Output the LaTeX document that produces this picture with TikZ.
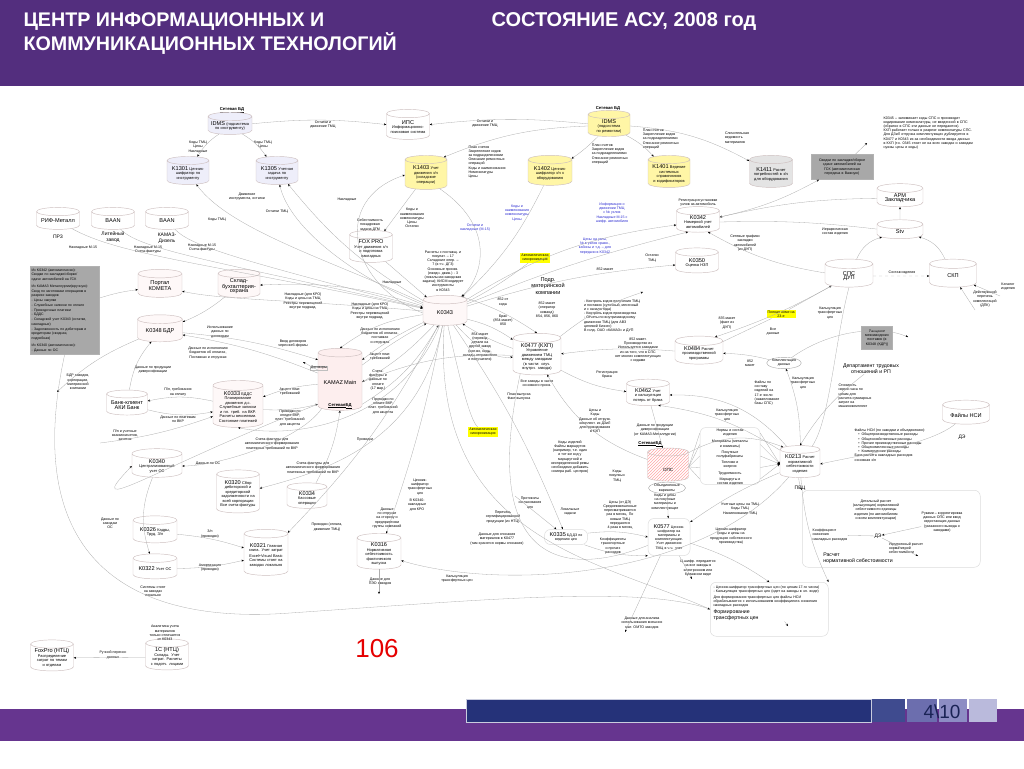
\documentclass[tikz,border=0pt]{standalone}
\usepackage{fontspec}
\setmainfont{Liberation Sans}
\usetikzlibrary{shapes.geometric,arrows.meta,patterns,calc}
\definecolor{hdr}{HTML}{532E7E}
\definecolor{barp}{HTML}{66358F}
\definecolor{navy}{HTML}{253279}
\definecolor{sqa}{HTML}{3F4B8F}
\definecolor{sqb}{HTML}{6C6EAE}
\definecolor{sqc}{HTML}{8D8DC4}
\definecolor{sqd}{HTML}{BABADC}
\definecolor{lav}{HTML}{EEEEFA}
\definecolor{yel}{HTML}{FFF6A6}
\definecolor{gry}{HTML}{E4E4E4}
\definecolor{dgry}{HTML}{A8A8A8}
\definecolor{pnk}{HTML}{FDEEEE}
\definecolor{edg}{HTML}{CDBFBF}
\definecolor{lblue}{HTML}{2A2AD0}
\definecolor{hlite}{HTML}{FFFF00}
\newcommand\ids[1]{{\fontsize{5.6}{6}\selectfont #1}}
\begin{document}
\begin{tikzpicture}[x=1pt,y=-1pt,
  db/.style 2 args={cylinder, shape border rotate=90, aspect=0.22, draw=edg, line width=0.45pt, fill=white, align=center, font=\fontsize{3.9}{4.5}\selectfont, inner sep=0.4pt, minimum width=#1, minimum height=#2, text width=#1-6},
  lb/.style={font=\fontsize{3.6}{4.2}\selectfont, align=center, inner sep=0.3pt},
  lbl/.style={lb, align=left},
  bl/.style={lb, text=lblue},
  con/.style={draw=black!32, line width=0.3pt, -{Stealth[length=2.4pt,width=2pt,black]}},
  lnn/.style={draw=black!32, line width=0.3pt},
  rbox/.style={draw=black!14, rounded corners=6pt, line width=0.5pt},
  sbd/.style={font=\bfseries\fontsize{4.2}{4.6}\selectfont, inner sep=0.3pt},
  hl/.style={lb, fill=hlite, inner sep=1pt},
]
\useasboundingbox (0,0) rectangle (1024,768);
% ---------- header and frame ----------
\fill[hdr] (0,0) rectangle (1024,86);
\draw[white, line width=1pt] (0,88) -- (1024,88);
\node[anchor=west, text=white, font=\bfseries\fontsize{19.7}{24}\selectfont, align=left] (title) at (20,34) {ЦЕНТР ИНФОРМАЦИОННЫХ И\\КОММУНИКАЦИОННЫХ ТЕХНОЛОГИЙ};
\node[anchor=west, text=white, font=\bfseries\fontsize{20}{22}\selectfont] (title2) at (488,22) {СОСТОЯНИЕ АСУ, 2008 год};
\fill[barp] (0,709) rectangle (1024,741);
\fill[navy, draw=white!75!navy, line width=0.8pt] (466,699) rectangle (871,722);
\fill[sqa] (872,699) rectangle (905,722);
\fill[sqb] (907,699) rectangle (937,722);
\fill[sqc] (939,699) rectangle (967,722);
\fill[sqd] (969,699) rectangle (997,722);
\node[text=navy!70!black, font=\fontsize{19}{20}\selectfont] (pg) at (942,712) {4\textbackslash 10};
\node[text=red!90!black, font=\fontsize{26}{28}\selectfont] (num) at (377,649) {106};

% ---------- top row ----------
\node[sbd] (sbd1) at (232,110) {\underline{Сетевая БД}};
\node[db={44}{19}, fill=lav] (idmsI) at (230,126) {\ids{IDMS} (подсистема по инструменту)};
\node[db={43}{30}] (ips) at (408,127) {\ids{ИПС}\\Информационно-поисковая система};
\node[sbd] (sbd2) at (608,109) {\underline{Сетевая БД}};
\node[db={42}{20}, fill=yel] (idmsR) at (609,126) {\ids{IDMS} (подсистема по ремонтам)};
\node[db={42}{28}, fill=lav] (k1301) at (188,173) {\ids{K1301} Ценник-шифратор по инструменту};
\node[db={42}{28}, fill=lav] (k1305) at (277,173) {\ids{K1305} Учетная задача по инструменту};
\node[db={42}{34}, fill=yel] (k1403) at (426,175) {\ids{K1403} Учет движения з/ч (складские операции)};
\node[db={44}{30}, fill=yel] (k1402) at (550,173) {\ids{K1402} Ценник-шифратор з/ч к оборудованию};
\node[db={42}{32}, fill=yel] (k1401) at (669,174) {\ids{K1401} Ведение системных справочников и кодификаторов};
\node[db={43}{32}, fill=gry] (k1411) at (771,174) {\ids{K1411} Расчет потребностей в з/ч для оборудования};
\node[draw=black!30, fill=dgry, minimum width=62, minimum height=25, text width=60, lb] (svod) at (842,167) {Сводки по закладке/сборке сдаче автомобилей на ГСК (автоматическая передача в Важную)};
\node[lbl, text width=96, anchor=north west] (note) at (883,116) {K0345 – запоминает коды СПС и производит кодирование номенклатуры, не введенной в СПС (обратно в СПС эти данные не передаются).\\КХП работает только в разрезе номенклатуры СПС.\\Для ДЗиЛ отгрузка комплектующих дублируется в K0477 и K0343 из-за необходимости ввода данных в КХП (т.к. 0345 стоит не на всех заводах и заводам нужны цены и коды)};
\node[db={46}{20}] (arm) at (900,198) {\ids{АРМ Закладчика}};
\node[db={46}{19}] (stv) at (900,232) {\ids{Stv}};
\node[db={48}{28}] (sps) at (849,276) {\ids{СПС}\\\ids{ДУП}};
\node[db={47}{28}] (skp) at (953,276) {\ids{СКП}};
\node[lb] (lkat) at (1008,287) {Каталог\\изделия};
\node[lb] (ldpk) at (985,299) {Действующий\\перечень\\комплектаций\\(ДПК)};
\coordinate (ckat) at (1000,296);
\coordinate (cdpk) at (975,310);

% ---------- left ----------
\node[db={43}{22}] (rif) at (58,221) {\ids{РИФ-Металл}};
\node[lb, font=\fontsize{5}{5.6}\selectfont] (prz) at (58,237) {ПРЗ};
\node[db={43}{22}] (baan1) at (113,221) {\ids{BAAN}};
\node[lb, font=\fontsize{5}{5.6}\selectfont] (lit) at (113,237) {Литейный\\завод};
\node[db={43}{22}] (baan2) at (167,221) {\ids{BAAN}};
\node[lb, font=\fontsize{5}{5.6}\selectfont] (diz) at (167,238) {КАМАЗ-\\Дизель};
\node[fill=dgry, draw=black!30, minimum width=69, minimum height=88, anchor=north west, lbl, text width=66, font=\fontsize{3.5}{4.75}\selectfont] (grb) at (30,266) {Из K0342 (автоматически):\\Сводки по закладке/сборке/\\сдаче автомобилей на ГСК\\[2pt]Из КАМАЗ Металлургии(вручную):\\Свод по заготовкам операциям в\\разрезе заводов\\- Цены закупки\\- Служебные записки по оплате\\- Проводочные платежи\\- БДДС\\- Складской учет K0343 (остатки,\\накладные)\\- Задолженность по дебиторам и\\кредиторам (сводная,\\подробная)\\[2pt]Из K0340 (автоматически):\\- Данные по ОС};
\node[db={44}{28}, fill=pnk!40] (kometa) at (160,286) {\ids{Портал}\\\ids{КОМЕТА}};
\node[db={42}{28}, fill=pnk!40] (sklad) at (239,286) {\ids{Склад-}\\\ids{бухгалтерия-}\\\ids{охрана}};
\node[db={45}{27}, fill=pnk!40] (k0348) at (160,331) {\ids{K0348 БДР}};
\node[db={41}{25}] (bank) at (127,405) {\ids{Банк-клиент}\\\ids{АКИ Банк}};
\node[db={50}{47}, fill=pnk!40] (k0333) at (238,407) {\ids{K0333} БДДС\\Планирование движения д.с. Служебные записки и пл. треб. на ВКР. Расчеты векселями. Состояние платежей};
\node[db={50}{25}] (k0340) at (157,466) {\ids{K0340}\\Централизованный учет ОС};
\node[db={43}{43}] (k0320) at (238,494) {\ids{K0320} Сбор дебиторской и кредиторской задолженности на всей корпорации\\Все счета-фактуры};
\node[db={40}{25}] (k0334) at (307,498) {\ids{K0334}\\Кассовые операции};
\node[db={44}{27}] (k0326) at (155,532) {\ids{K0326} Кадры, Труд, З/п};
\node[db={44}{25}] (k0322) at (155,569) {\ids{K0322} Учет ОС};
\node[lb] (lsys) at (153,591) {Системы стоят\\на заводах\\локально};
\node[db={44}{46}] (k0321) at (266,555) {\ids{K0321} Главная книга. Учет затрат\\[1pt]Excel+Visual Basic Системы стоят на заводах локально};
\node[db={44}{35}] (k0316) at (379,554) {\ids{K0316}\\Нормативная себестоимость фактического выпуска};
\node[db={43}{30}] (foxn) at (52,658) {\ids{FoxPro (НТЦ)}\\Распределение затрат по темам и отделам};
\node[db={43}{30}] (onec) at (167,657) {\ids{1С (НТЦ)}\\Склады. Учет затрат. Расчеты с подотч. лицами};
\node[lb] (lanal) at (165,633) {Аналитика учета\\материалов\\только отличается\\от K0343};

% ---------- centre ----------
\node[db={43}{32}] (fox) at (371,249) {\ids{FOX PRO} Учет движения з/ч и подготовка накладных};
\node[db={44}{30}, fill=pnk!40] (k0343) at (445,313) {\ids{K0343}};
\node[db={44}{62}, fill=pnk] (kamaz) at (340,382) {\ids{KAMAZ Main}\\[12pt]};
\node[sbd] (sbd3) at (340,406) {\underline{Сетевая}\\\underline{БД}};
\node[db={43}{25}] (k0342) at (698,222) {\ids{K0342}\\Номерной учет автомобилей};
\node[db={43}{25}] (k0350) at (697,263) {\ids{K0350} Оценка НЗП};
\node[hl] (sync1) at (535,258) {Автоматическая\\синхронизация};
\node[hl] (sync2) at (483,432) {Автоматическая\\синхронизация};
\node[lb, font=\fontsize{5.6}{6.2}\selectfont] (podr) at (548,286) {Подр.\\материнской\\компании};
\node[db={48}{40}] (k0477) at (537,357) {\ids{K0477 (КХП)}\\Управление движением ТМЦ между заводами (в части: случ. внутрн. завода)};
\node[db={48}{27}] (k0484) at (699,353) {\ids{K0484} Расчет производственной программы};
\node[db={43}{24}] (k0462) at (648,395) {\ids{K0462} Учет и калькуляция потерь от брака};
\node[sbd] (sbd4) at (650,444) {\underline{Сетевая}\\\underline{БД}};
\node[db={41}{33}, fill=white, pattern={north east lines}, pattern color=red!35] (ops) at (668,467) {};
\node[lb, font=\fontsize{4.5}{5}\selectfont] (opst) at (668,470) {ОПС};
\node[rbox, minimum width=60, minimum height=57] (normb) at (730,456) {};
\node[lb] (n1) at (730,433) {Нормы и состав\\изделия};
\node[lb] (n2) at (730,444) {Материалы (металлы\\и химикаты)};
\node[lb] (n3) at (730,455) {Покупные\\полуфабрикаты};
\node[lb] (n4) at (730,465) {Топливо и\\энергия};
\node[lb] (n5) at (730,474) {Трудоемкость};
\node[lb] (n6) at (730,482) {Маршруты и\\состав изделия};
\node[draw=black!35, ellipse, minimum width=34, minimum height=11, lb] (obv) at (667,488) {Объединенные\\варианты};
\node[db={40}{32}] (k0213) at (800,464) {\ids{K0213} Расчет нормативной себестоимости изделия};
\node[lb, font=\fontsize{5}{5.6}\selectfont] (pvc) at (800,488) {ПВЦ};
\node[db={47}{24}] (nsi) at (966,415) {\ids{Файлы НСИ}};
\node[lb, font=\fontsize{5}{5.6}\selectfont] (de1) at (962,437) {ДЭ};
\node[draw=black!30, fill=dgry, minimum width=31, minimum height=23, text width=30, lb] (rasc) at (877,338) {Расценки межзаводских поставок (в K0348 (KДР))};
\node[hl] (poln) at (781,314) {Полная номе на\\23-е};
\node[draw=black!35, ellipse, minimum width=32, minimum height=10, lb] (kompl) at (784,363) {Комплектация\\данных};
\node[lb, font=\fontsize{5.2}{5.8}\selectfont] (dept) at (871,369) {Департамент трудовых\\отношений и РП};
\node[rbox, minimum width=43, minimum height=15, lb] (k0335) at (566,537) {\ids{K0335} БД ДЗ по\\ведению цен};
\node[rbox, minimum width=42, minimum height=37, text width=40, lb] (k0577) at (669,537) {\ids{K0577} Ценник-шифратор на материалы и комплектующие. Учет движения ТМЦ в ч.ч. учет};
\node[rbox, minimum width=118, minimum height=54, anchor=north west] (formb) at (710,582) {};
\node[lbl, text width=114, anchor=north west] (formt) at (713,585) {- Ценник-шифратор трансфертных цен (по ценам 17-го числа)\\- Калькуляция трансфертных цен (идет на заводы в эл. виде)\\[2pt]Для формирования трансфертных цен файлы НСИ обрабатываются с использованием коэффициента снижения накладных расходов\\[1pt]{\fontsize{5.2}{6}\selectfont Формирование\\трансфертных цен}};
\node[rbox, minimum width=178, minimum height=77, anchor=north west] (raschb) at (802,490) {};
\node[lb] (r1) at (876,510) {Детальный расчет\\(калькуляция) нормативной\\себестоимости единицы\\изделия (по автомобилям\\и всем комплектующим)};
\node[lb] (r2) at (942,522) {Руками – корректировка\\данных ОПС или ввод\\недостающих данных\\(указанного вывода о\\заводами)};
\node[lbl] (r3) at (830,535) {Коэффициент\\снижения\\накладных расходов};
\node[lb, font=\fontsize{5}{5.6}\selectfont] (de2) at (878,536) {ДЭ};
\node[lbl] (r4) at (906,548) {Укрупненный расчет\\нормативной\\себестоимости};
\node[lbl, font=\fontsize{5.2}{6}\selectfont] (r5) at (858,558) {Расчет\\нормативной себестоимости};
\coordinate (r4a) at (918,556);

% ---------- labels ----------
\node[lb] (a1) at (323,125) {Остатки и\\движение ТМЦ};
\node[lb] (a2) at (485,124) {Остатки и\\движение ТМЦ};
\node[lb] (a3) at (198,147) {Коды ТМЦ\\Цены\\Накладные};
\node[lb] (a4) at (263,145) {Коды ТМЦ\\Цены};
\node[lb] (a5) at (247,197) {Движение\\инструмента, остатки};
\node[lb] (a6) at (277,212) {Остатки ТМЦ};
\node[lb] (a7) at (217,220) {Коды ТМЦ};
\node[lb] (a8) at (83,248) {Накладные М-15};
\node[lb] (a9) at (148,250) {Накладные М-15\\Счета-фактуры};
\node[lb] (a10) at (202,248) {Накладные М-15\\Счета-фактуры};
\node[lbl] (a11) at (487,162) {План счетов\\Закрепление кодов\\за подразделениями\\Описание ремонтных\\операций\\Коды и наименования\\Номенклатуры\\Цены};
\node[lbl] (a12) at (610,154) {План счетов\\Закрепление кодов\\за подразделениями\\Описание ремонтных\\операций};
\node[lbl] (a13) at (661,139) {План счетов\\Закрепление кодов\\за подразделениями\\Описание ремонтных\\операций};
\node[lbl] (a14) at (737,138) {Сличительная\\ведомость\\материалов};
\node[lb] (a15) at (347,200) {Накладные};
\node[lb] (a16) at (412,218) {Коды и\\наименования\\номенклатуры\\Цены\\Остатки};
\node[bl] (a17) at (475,228) {Остатки и\\накладные (М-15)};
\node[lb] (a18) at (370,225) {Себестоимость\\покадровая\\задача ДГМ};
\node[lb] (a19) at (443,271) {Расчеты с поставщ. и\\покупат. – 17\\Складские опер. –\\7 (в т.ч. ДГЗ)\\Основные произв.\\(ежедн. движ.) - 3\\(локальная заводская\\задача); КИСМ кодирует\\инструменты\\в K0343};
\node[lb] (a20) at (392,283) {Накладные};
\node[bl] (a21) at (517,213) {Коды и\\наименования\\номенклатуры\\Цены};
\node[bl] (a22) at (612,213) {Информация о\\движении ТМЦ\\с № узлов\\Накладные М-15 с\\шифр. автомобиля};
\node[lb] (a23) at (698,203) {Регистрация установки\\узлов на автомобиль};
\node[lb] (a24) at (745,243) {Сетевые графики\\закладки\\автомобилей\\(из ДУП)};
\node[bl] (a25) at (595,246) {Цены на узлы,\\№ в узлов сравн.,\\кабины и т.д. – для\\передачи в K0342};
\node[lb] (a26) at (652,258) {Остатки\\ТМЦ};
\node[lb] (a27) at (605,269) {852 макет};
\node[lb] (a28) at (835,232) {Иерархическая\\состав изделия};
\node[lb, fill=white] (a29) at (902,273) {Состав изделия};
\node[lb] (a30) at (303,301) {Накладные (для КРО)\\Коды и цены на ТМЦ\\Реестры перемещений\\внутри подразд.};
\node[lb] (a31) at (370,311) {Накладные (для КРО)\\Коды и цены на ТМЦ\\Реестры перемещений\\внутри подразд.};
\node[lb] (a32) at (380,336) {Данные по исполнению\\бюджетов об оплатах,\\поставках\\и отгрузках};
\node[lb] (a33) at (380,357) {Акцепт плат.\\требований};
\node[lb] (a34) at (378,380) {Счета-\\фактуры и\\данные по\\оплате\\(17 мар.)};
\node[lb] (a35) at (383,406) {Проводки по\\оплате ВКР,\\плат. требований\\для акцепта};
\node[lb] (a36) at (220,332) {Использование\\данных по\\договорам};
\node[lb] (a37) at (208,353) {Данные по исполнению\\бюджетов об оплатах,\\Поставках и отгрузках};
\node[lb] (a38) at (293,344) {Ввод договоров\\через веб-формы};
\node[lb, draw=black!25] (a39) at (319,368) {Договоры};
\node[lb] (a40) at (153,370) {Данные по продукции\\диверсификации};
\node[lb] (a41) at (78,382) {БДР заводов,\\корпорации,\\материнской\\компании};
\node[lb] (a42) at (178,392) {П/п, требования\\на оплату};
\node[lb] (a43) at (178,419) {Данные по платежам\\по ВКР};
\node[lb] (a44) at (125,435) {П/п и учетные\\взаимозачетов,\\зачетов};
\node[lb] (a45) at (290,392) {Акцепт плат.\\требований};
\node[lb] (a46) at (290,418) {Проводки по\\оплате ВКР,\\плат. требований\\для акцепта};
\node[lb] (a47) at (272,444) {Счета-фактуры для\\автоматического формирования\\платежных требований по ВКР};
\node[lb] (a48) at (313,468) {Счета-фактуры для\\автоматического формирования\\платежных требований по ВКР};
\node[lb] (a49) at (365,440) {Проводки};
\node[lb] (a50) at (208,464) {Данные по ОС};
\node[lb] (a51) at (420,487) {Ценник-\\шифратор\\трансфертных\\цен};
\node[lb] (a52) at (417,505) {В K0340-\\накладные\\для КРО};
\node[lb] (a53) at (387,518) {Данные\\по отгрузке\\на сторону и\\предприятиям\\группы компаний};
\node[lb] (a54) at (327,527) {Проводки (оплата,\\движение ТМЦ)};
\node[lb] (a55) at (110,523) {Данные по\\заводам\\ОС};
\node[lb] (a56) at (210,534) {З/п\\(проводки)};
\node[lb] (a57) at (210,568) {Амортизация\\(проводки)};
\node[lb] (a58) at (113,655) {Ручной перенос\\данных};
\node[lb] (a59) at (380,582) {Данные для\\ПЭО заводов};
\node[lb] (a60) at (457,579) {Калькуляция\\трансфертных цен};
\node[lb] (a61) at (503,302) {852 от\\кода};
\node[lb] (a62) at (503,320) {Брак\\(854 макет)\\850};
\node[lb] (a63) at (480,347) {854 макет\\(перевод\\детали на\\другой завод\\(кол-во, коды,\\склады отправителя\\и получателя)};
\node[lb] (a64) at (547,310) {852 макет\\(оператор\\команд)\\854, 856, 860};
\node[lbl] (a65) at (612,316) {- Контроль кодов получения ТМЦ\\и поставок (суточный, месячный\\и с начала года)\\- Контроль кодов производства\\- Отчеты по внутризаводскому\\движению ТМЦ (для АВЗ\\целевой бизнес)\\В голд. ОАО «КАМАЗ» и ДУП};
\node[lb] (a66) at (537,384) {Все заводы в части\\основного произ.};
\node[lb] (a67) at (519,397) {План выпуска\\Факт выпуска};
\node[lb] (a68) at (638,350) {852 макет.\\Производство из\\Используется заводами\\из-за того, что в СПС\\нет многих комплектующих\\с кодами};
\node[lb] (a69) at (727,323) {835 макет\\(факт из\\ДУП)};
\node[lb] (a70) at (750,363) {852\\макет};
\node[lb] (a71) at (607,375) {Регистрация\\брака};
\node[lb] (a72) at (595,421) {Цены и\\Коды\\Данные об отгрузк.\\комплект. из ДЗиЛ\\для проводивания\\в КХП};
\node[lb] (a73) at (655,430) {Данные по продукции\\диверсификации\\(от КАМАЗ-Металлургии)};
\node[lb] (a74) at (727,415) {Калькуляция\\трансфертных\\цен};
\node[lbl] (a75) at (767,393) {Файлы по\\составу\\изделий на\\17-е число\\(накапливание\\базы СПС)};
\node[lb] (a76) at (570,457) {Коды изделий\\Файлы маршрутов\\(например, т.е. один\\и тот же код у\\маршрутной и\\неопределенной ремы\\необходимо добавить\\номера раб. центров)};
\node[lb] (a77) at (617,476) {Коды\\покупных\\ТМЦ};
\node[lb] (a78) at (665,502) {Коды и цены\\на покупные\\материалы и\\комплектующие};
\node[lb] (a79) at (530,503) {Протоколы\\согласования\\цен};
\node[lb] (a80) at (503,517) {Перечень\\сертифицированной\\продукции (из НТЦ)};
\node[lb] (a81) at (570,512) {Локальные\\задачи};
\node[lb] (a82) at (497,539) {Данные для списания\\материалов в K0477\\(там хранятся нормы списания)};
\node[lb] (a83) at (620,515) {Цены (от ДЭ)\\Средневзвешенные\\пересматриваются\\раз в месяц. По\\новым ТМЦ\\передаются\\4 раза в месяц};
\node[lb] (a84) at (613,546) {Коэффициенты\\транспортные\\и прочих\\расходов};
\node[lb] (a85) at (740,509) {Учетные цены на ТМЦ\\Коды ТМЦ\\Наименование ТМЦ};
\node[lb] (a86) at (731,536) {Ценник-шифратор\\(коды и цены на\\продукцию собственного\\производства)};
\node[lb] (a87) at (698,568) {Ц.шифр. передается\\на все заводы в\\электронном или\\бумажном виде};
\node[lb] (a88) at (642,623) {Данные для анализа\\использования внешних\\мат. ОМТО заводов};
\node[lb] (a89) at (773,332) {Все\\данные};
\node[lb] (a90) at (830,313) {Калькуляция\\трансфертных\\цен};
\node[lb] (a91) at (803,383) {Калькуляция\\трансфертных\\цен};
\node[lbl] (a92) at (855,396) {Стоимость\\нормо-часа по\\цехам для\\расчета суммарных\\затрат на\\машинокомплект};
\node[lbl] (a93) at (890,445) {Файлы НСИ (по заводам и объединению):\\\quad\textbullet\ \ Общепроизводственные расходы\\\quad\textbullet\ \ Общехозяйственные расходы\\\quad\textbullet\ \ Прочие производственные расходы\\\quad\textbullet\ \ Общекомплексные расходы\\\quad\textbullet\ \ Коммерческие расходы\\База расчета накладных расходов\\основная з/п};

% ---------- free ends ----------
\coordinate (cbdr) at (57,392);
\coordinate (cpp) at (100,443);
\coordinate (csv) at (867,143);
\coordinate (cktr) at (643,292);
\coordinate (crasc) at (908,337);
\coordinate (cshf) at (692,579);
\coordinate (comto) at (625,632);
\coordinate (cpeo) at (379,594);
\coordinate (cprot) at (515,496);
\coordinate (cform) at (788,626);
\coordinate (cdog) at (303,362);

% ---------- connectors ----------
\draw[con] (idmsI) to[bend left=6] (ips);
\draw[con] (idmsR) to[bend right=6] (ips);
\draw[con] (idmsI) to[bend right=12] (k1301);
\draw[con] (idmsI) to[bend left=12] (k1305);
\draw[con] (k0343) .. controls (330,260) and (230,230) .. (k1301);
\draw[con] (k0343) .. controls (360,280) and (290,230) .. (k1305);
\draw[con] (k0343) to[bend left=10] (k1305.south east);
\draw[con] (rif) .. controls (120,255) and (200,262) .. (k0343);
\draw[con] (baan1) .. controls (140,250) and (220,262) .. (k0343);
\draw[con] (baan2) .. controls (190,245) and (230,258) .. (k0343);
\draw[con] (idmsR.west) to[bend right=10] (k1403.north east);
\draw[con] (idmsR) to[bend left=5] (k1402);
\draw[con] (idmsR) to[bend left=10] (k1401);
\draw[con] (idmsR.east) to[bend left=12] (k1411);
\draw[con] (k1403) to (fox);
\draw[con] (k0343.west) .. controls (350,285) and (330,200) .. (k1403.west);
\draw[con] (k1403.south east) .. controls (500,230) and (480,280) .. (k0343.north east);
\draw[con] (fox) to (k0343);
\draw[con] (k1402) to[bend left=10] (k0343);
\draw[con] (k0343) to[bend left=12] (k0342);
\draw[con] (k0343) to[bend left=4] (k0342.south west);
\draw[con] (k0343) to[bend left=6] (k0350);
\draw[con] (arm) to[bend right=6] (k0342);
\draw[con] (sps) to[bend left=10] (k0342.south east);
\draw[lnn] (stv) to[bend right=4] (k0342.east);
\draw[con] (k0342) to[bend right=8] (svod);
\draw[con] (svod) to (csv);
\draw[con] (stv) to (arm);
\draw[con] (sps) to[bend left=25] (stv);
\draw[con] (skp) to[bend right=25] (stv);
\draw[con, dashed] (sps) -- (skp);
\draw[con] (ckat) -- (skp);
\draw[con] (cdpk) -- (skp);
\draw[con] (k0484) -- (poln) -- (sps);
\draw[con] (sps) to[bend left=5] (k0484.north east);
% centre-left
\draw[con] (k0343) .. controls (300,300) and (220,300) .. (kometa);
\draw[con] (grb) to[bend left=5] (kometa);
\draw[con] (k0343) to[bend right=10] (sklad);
\draw[con] (k0343) to[bend right=14] (kamaz.north);
\draw[con] (k0343) to[bend right=6] (kamaz.north east);
\draw[con] (kamaz) to[bend left=4] (k0343);
\draw[con] (k0343) to[bend left=8] (kamaz.east);
\draw[con] (kamaz.south east) to[bend right=14] (k0343);
\draw[con] (kamaz) to[bend right=6] (k0348);
\draw[con] (sklad) to[bend left=8] (k0348);
\draw[con] (k0348) to[bend left=6] (kamaz.north west);
\draw[con] (kamaz) to (cdog);
\draw[con] (k0348) to[bend right=10] (cbdr);
\draw[con] (bank) to[bend left=15] (k0348);
\draw[con] (k0333) to[bend right=12] (bank);
\draw[con] (bank) to[bend right=12] (k0333);
\draw[con] (cpp) to[bend right=6] (k0333);
\draw[con] (kamaz) to[bend right=8] (k0333);
\draw[con] (k0333) to[bend right=8] (kamaz.south west);
\draw[con] (k0343) .. controls (400,420) and (300,440) .. (k0333.south);
\draw[con] (k0343) .. controls (420,440) and (330,470) .. (k0320);
\draw[con] (k0334) to[bend right=10] (kamaz.south);
\draw[con] (kamaz) .. controls (300,440) and (220,466) .. (k0340);
\draw[con] (k0343) to[bend left=8] (k0321);
\draw[con] (k0343) to[bend left=4] (k0316);
\draw[lnn] (formb.west) .. controls (600,560) and (430,540) .. (k0343);
\draw[con] (k0340) to[bend right=20] (k0322);
\draw[con] (k0326) to[bend left=6] (k0321);
\draw[con] (k0322) to[bend right=6] (k0321);
\draw[con] (onec) -- (foxn);
\draw[con] (k0316) -- (cpeo);
\draw[con] (k0213) .. controls (700,580) and (500,590) .. (k0316);
\draw[con] (grb.south) .. controls (20,560) and (130,625) .. (290,613) .. controls (480,600) and (640,585) .. (formb.west);
\draw[con] (kamaz.south west) .. controls (150,470) and (80,520) .. (k0340.west);
% centre-right
\draw[con] (k0343) to[bend left=10] (k0477);
\draw[con] (k0477) to[bend left=6] (k0343);
\draw[con] (k0343) .. controls (470,340) and (490,360) .. (k0477.west);
\draw[con] (k0343.north east) to[bend left=8] (k0477.north);
\draw[con] (k0477) to[bend left=10] (cktr);
\draw[lnn] (k0343) .. controls (460,380) and (470,420) .. (sync2);
\draw[lnn] (sync1) to[bend left=5] (k0343);
\draw[con] (k0484) to[bend right=6] (k0477);
\draw[con] (k0477) to[bend right=10] (k0462);
\draw[con] (ops) to[bend left=20] (k0477);
\draw[lnn] (k0477) to[bend right=12] (kamaz.east);
\draw[con] (k0462) to (ops);
\draw[con] (k0213) to[bend right=25] (k0462.east);
\draw[con] (k0213) to[bend right=12] (k0462.south east);
\draw[con] (kompl) to[bend right=6] (k0484);
\draw[con] (ops) to[bend left=25] (k0213.north west);
\foreach \yy in {0.1,0.3,0.5,0.7,0.9} {
  \draw[lnn] (ops.east) -- ($(normb.north west)!\yy!(normb.south west)$);
  \draw[con] ($(normb.north east)!\yy!(normb.south east)$) -- (k0213.west);
}
\draw[lnn] (ops.south) -- (obv);
\draw[con] (k0213) to[bend right=10] (kompl);
\draw[con] (kompl) .. controls (830,330) and (880,325) .. (crasc);
\draw[lnn] (k0213) .. controls (830,420) and (835,340) .. (sps.south);
\draw[con] (dept) to[bend right=10] (k0213.north);
\draw[con] (nsi) .. controls (930,445) and (860,455) .. (k0213.east);
\draw[con] (k0213) to[bend right=10] (raschb.north west);
\draw[con] (k0213) to[bend right=10] (formb.north east);
\draw[con] (obv) to (k0577);
\draw[con] (k0335) to[bend left=10] (k0577.west);
\draw[con] (k0335) to[bend right=10] (k0577.south west);
\draw[con] (cprot) -- (k0335);
\draw[con] (k0343) to[bend left=6] (k0335);
\draw[lnn] (k0577) .. controls (560,580) and (480,560) .. (k0477.south west);
\draw[con] (k0213) to[bend right=6] (k0577);
\draw[con] (k0577) to[bend left=8] (formb.north);
\draw[con] (k0577) to (cshf);
\draw[con] (k0577) to (comto);
\draw[con] (formt) to (cform);
\draw[con] (r2) -- (de2);
\draw[lnn] (r3) -- (de2);
\draw[con] (de2) -- (r4a);
\end{tikzpicture}
\end{document}
